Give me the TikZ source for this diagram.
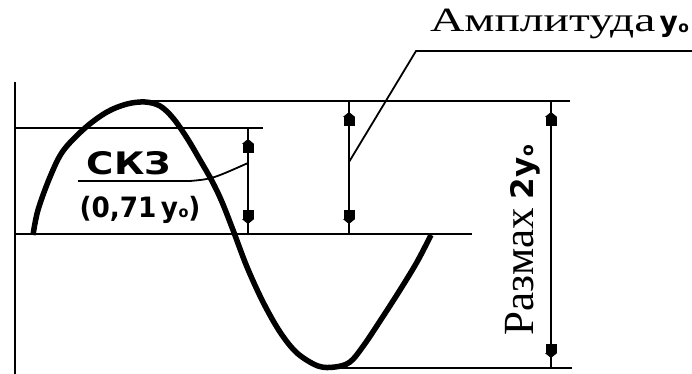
\documentclass[tikz,border=0pt]{standalone}
\usepackage{fontspec}
\setmainfont{Liberation Serif}
\newfontfamily\handfont{DejaVu Sans}
\usetikzlibrary{arrows.meta}
\newcommand{\yo}{{\handfont\bfseries y\kern0.5pt\raisebox{-0.5pt}{\scalebox{0.55}{o}}}}
\tikzset{
  thinline/.style={line width=2.2pt},
  wave/.style={line width=5.5pt, line join=round, line cap=butt},
  dimtips/.style={line width=2.2pt,
    {Triangle[length=5pt,width=12pt]Rectangle[length=9pt,width=11pt]}-{Rectangle[length=9pt,width=11pt]Triangle[length=5pt,width=12pt]},
    shorten <=11pt, shorten >=10pt},
  lbl/.style={inner sep=0pt, outer sep=0pt}
}
\begin{document}
\begin{tikzpicture}[x=1pt,y=-1pt]
\useasboundingbox (0,0) rectangle (692,374);
% coordinates
\coordinate (axT) at (15,82);
\coordinate (axB) at (15,374);
\coordinate (pkL) at (140,101);
\coordinate (pkR) at (570,101);
\coordinate (rmL) at (15,128);
\coordinate (rmR) at (263,128);
\coordinate (zL) at (15,234);
\coordinate (zR) at (472,234);
\coordinate (btL) at (320,368);
\coordinate (btR) at (572,368);
% dimension arrows
\coordinate (a1T) at (248,128);
\coordinate (a1B) at (248,234);
\coordinate (a2T) at (349,101);
\coordinate (a2B) at (349,234);
\coordinate (a3T) at (551,101);
\coordinate (a3B) at (551,368);
\coordinate (a1M) at (248,163);
\coordinate (a2M) at (349,162);
\coordinate (ldK) at (416,51);
\coordinate (ldE) at (692,51);
\coordinate (frL) at (78,181);
\coordinate (frR) at (190,181);

\draw[thinline] (axT) -- (axB);
\draw[thinline] (pkL) -- (pkR);
\draw[thinline] (rmL) -- (rmR);
\draw[thinline] (zL) -- (zR);
\draw[thinline] (btL) -- (btR);

\draw[thinline] (a1T) -- (a1B);
\draw[dimtips] (a1T) -- (a1B);
\draw[thinline] (a2T) -- (a2B);
\draw[dimtips] (a2T) -- (a2B);
\draw[thinline] (a3T) -- (a3B);
\draw[dimtips] (a3T) -- (a3B);

% leaders
\draw[line width=1.8pt] (a2M) -- (ldK) -- (ldE);
\draw[line width=1.8pt] (frL) -- (frR) .. controls (212,179) .. (a1M);

% wave
\draw[wave] plot[smooth, tension=0.55] coordinates {
  (33,235) (38,210) (50,177) (63,151) (85,128) (107,112) (127,104) (145,102)
  (160,106) (173,118) (187,138) (200,160) (212,181) (222,202) (233,230)
  (247,267) (263,302) (280,332) (297,353) (318,366) (335,367) (350,362)
  (364,345) (382,318) (400,290) (417,262) (431,235)};

% texts
\node[lbl, anchor=base west] (amp) at (430,32)
  {\fontsize{34}{38}\selectfont\scalebox{1.4}[1]{Амплитуда}\hspace{4pt}\fontsize{28}{30}\selectfont\yo};
\node[lbl, anchor=base west, rotate=90] (raz) at (533,335)
  {\fontsize{43}{46}\selectfont Размах\hspace{9pt}\fontsize{31}{32}\selectfont{\handfont\bfseries 2}\yo};
\node[lbl, anchor=base] (skz) at (129,175)
  {\handfont\bfseries\fontsize{31}{34}\selectfont\scalebox{1.2}[1]{СКЗ}};
\node[lbl, anchor=base] (val) at (140,217)
  {\handfont\bfseries\fontsize{28}{31}\selectfont\scalebox{0.94}[1]{(0,71\,\yo)}};
\end{tikzpicture}
\end{document}
